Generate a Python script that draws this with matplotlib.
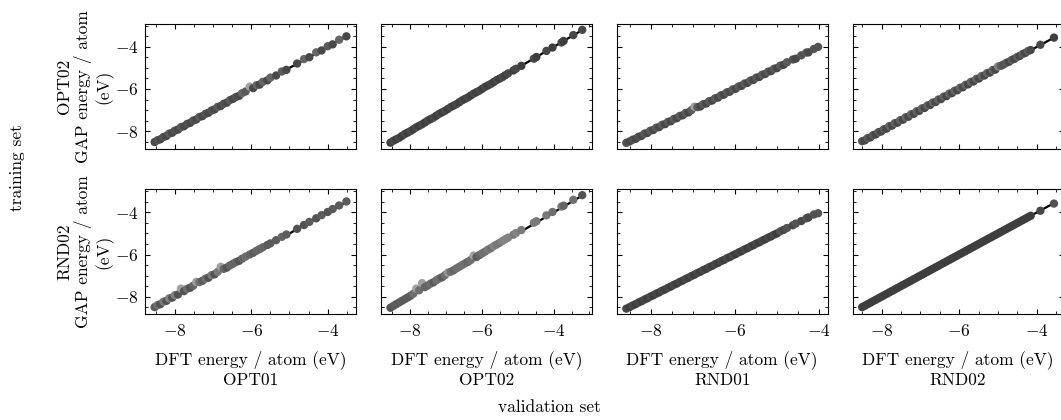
import numpy as np
import matplotlib
matplotlib.use('Agg')
import matplotlib.pyplot as plt
from matplotlib.colors import LinearSegmentedColormap

plt.rcParams.update({
    'font.family': 'serif',
    'font.serif': ['cmr10'],
    'mathtext.fontset': 'cm',
    'axes.formatter.use_mathtext': True,
    'font.size': 12.5,
    'axes.linewidth': 0.8,
    'xtick.direction': 'in',
    'ytick.direction': 'in',
    'xtick.top': True,
    'ytick.right': True,
    'xtick.minor.visible': True,
    'ytick.minor.visible': True,
    'xtick.major.size': 3.5,
    'ytick.major.size': 3.5,
    'xtick.minor.size': 2.0,
    'ytick.minor.size': 2.0,
    'xtick.major.pad': 6,
    'ytick.major.pad': 5,
})

validation_sets = ['OPT01', 'OPT02', 'RND01', 'RND02']
training_sets = ['OPT02', 'RND02']

# DFT reference energies per atom (eV) of each validation set
dft_opt01 = [-8.53, -8.45, -8.38, -8.30, -8.22, -8.15, -8.07, -8.00, -7.92, -7.84,
             -7.76, -7.68, -7.60, -7.52, -7.44, -7.36, -7.28, -7.20, -7.12, -7.04,
             -6.96, -6.88, -6.80, -6.72, -6.64, -6.56, -6.48, -6.40, -6.32, -6.24,
             -6.15, -6.04, -5.95, -5.86, -5.78, -5.70, -5.58, -5.50, -5.35, -5.20,
             -5.08, -4.80, -4.62, -4.48, -4.30, -4.16, -4.00, -3.87, -3.70, -3.51]
dft_opt02 = [-8.55, -8.47, -8.39, -8.31, -8.23, -8.15, -8.07, -7.99, -7.91, -7.83,
             -7.75, -7.67, -7.59, -7.51, -7.43, -7.35, -7.27, -7.19, -7.11, -7.03,
             -6.95, -6.87, -6.79, -6.71, -6.63, -6.55, -6.47, -6.39, -6.31, -6.23,
             -6.15, -6.07, -5.99, -5.91, -5.83, -5.75, -5.67, -5.59, -5.51, -5.43,
             -5.35, -5.27, -5.12, -5.05, -4.90, -4.55, -4.48, -4.20, -4.03, -3.78,
             -3.72, -3.45, -3.20]
dft_rnd01 = [-8.58, -8.50, -8.43, -8.36, -8.29, -8.22, -8.15, -8.08, -8.01, -7.94,
             -7.87, -7.80, -7.73, -7.66, -7.59, -7.52, -7.45, -7.38, -7.31, -7.24,
             -7.17, -7.10, -7.03, -6.96, -6.89, -6.82, -6.75, -6.68, -6.61, -6.54,
             -6.47, -6.40, -6.33, -6.26, -6.19, -6.12, -6.05, -5.98, -5.91, -5.84,
             -5.77, -5.70, -5.63, -5.56, -5.49, -5.42, -5.35, -5.28, -5.21, -5.14,
             -5.07, -5.00, -4.92, -4.84, -4.76, -4.62, -4.55, -4.42, -4.30, -4.25,
             -4.12, -4.02]
dft_rnd02 = [-8.50, -8.43, -8.36, -8.29, -8.22, -8.15, -8.08, -8.01, -7.94, -7.87,
             -7.80, -7.73, -7.66, -7.59, -7.52, -7.45, -7.38, -7.31, -7.24, -7.17,
             -7.10, -7.03, -6.96, -6.89, -6.82, -6.75, -6.68, -6.61, -6.54, -6.47,
             -6.40, -6.33, -6.26, -6.19, -6.12, -6.05, -5.98, -5.91, -5.84, -5.77,
             -5.70, -5.63, -5.56, -5.49, -5.42, -5.35, -5.28, -5.21, -5.14, -5.07,
             -5.00, -4.93, -4.86, -4.79, -4.72, -4.65, -4.58, -4.51, -4.44, -4.37,
             -4.30, -4.23, -4.16, -3.91, -3.56]

# GAP predictions, model trained on OPT02
gap_opt02_on_opt01 = [-8.52, -8.43, -8.39, -8.28, -8.23, -8.12, -8.08, -7.98, -7.93, -7.81,
                      -7.77, -7.66, -7.61, -7.50, -7.45, -7.33, -7.29, -7.18, -7.13, -7.02,
                      -6.97, -6.85, -6.81, -6.70, -6.65, -6.53, -6.47, -6.38, -6.33, -6.20,
                      -6.12, -5.89, -5.96, -5.82, -5.79, -5.66, -5.59, -5.46, -5.36, -5.17,
                      -5.09, -4.79, -4.58, -4.49, -4.26, -4.17, -3.97, -3.88, -3.66, -3.50]
gap_opt02_on_opt02 = [-8.55, -8.46, -8.39, -8.32, -8.23, -8.14, -8.07, -8.00, -7.91, -7.82,
                      -7.75, -7.68, -7.59, -7.50, -7.43, -7.36, -7.27, -7.18, -7.11, -7.04,
                      -6.95, -6.86, -6.79, -6.72, -6.63, -6.54, -6.47, -6.40, -6.31, -6.22,
                      -6.15, -6.08, -5.99, -5.90, -5.83, -5.76, -5.67, -5.58, -5.51, -5.44,
                      -5.35, -5.26, -5.12, -5.04, -4.90, -4.56, -4.48, -4.19, -4.03, -3.79,
                      -3.72, -3.44, -3.19]
gap_opt02_on_rnd01 = [-8.56, -8.49, -8.41, -8.37, -8.27, -8.23, -8.12, -8.09, -7.98, -7.95,
                      -7.84, -7.81, -7.70, -7.67, -7.56, -7.53, -7.42, -7.39, -7.28, -7.25,
                      -7.14, -7.11, -7.00, -6.84, -6.86, -6.83, -6.72, -6.69, -6.58, -6.55,
                      -6.44, -6.41, -6.30, -6.27, -6.16, -6.13, -6.02, -5.99, -5.88, -5.85,
                      -5.74, -5.71, -5.60, -5.57, -5.46, -5.43, -5.32, -5.29, -5.18, -5.15,
                      -5.04, -5.01, -4.89, -4.85, -4.73, -4.60, -4.56, -4.40, -4.27, -4.26,
                      -4.10, -4.00]
gap_opt02_on_rnd02 = [-8.48, -8.44, -8.33, -8.30, -8.19, -8.16, -8.05, -8.02, -7.91, -7.88,
                      -7.76, -7.74, -7.62, -7.60, -7.48, -7.46, -7.34, -7.32, -7.20, -7.18,
                      -7.06, -7.04, -6.92, -6.90, -6.78, -6.76, -6.64, -6.62, -6.50, -6.48,
                      -6.36, -6.34, -6.22, -6.20, -6.08, -6.06, -5.94, -5.92, -5.80, -5.78,
                      -5.66, -5.64, -5.52, -5.50, -5.38, -5.36, -5.24, -5.22, -5.10, -5.08,
                      -4.93, -4.90, -4.84, -4.76, -4.71, -4.62, -4.57, -4.48, -4.43, -4.34,
                      -4.29, -4.20, -4.15, -3.90, -3.56]

# GAP predictions, model trained on RND02
gap_rnd02_on_opt01 = [-8.50, -8.40, -8.36, -8.24, -8.20, -8.08, -8.05, -7.93, -7.90, -7.62,
                      -7.74, -7.63, -7.58, -7.48, -7.30, -7.31, -7.25, -7.15, -7.10, -6.98,
                      -6.94, -6.82, -6.58, -6.68, -6.62, -6.52, -6.44, -6.36, -6.30, -6.20,
                      -6.10, -6.00, -5.92, -5.82, -5.74, -5.66, -5.55, -5.47, -5.32, -5.16,
                      -5.05, -4.78, -4.60, -4.45, -4.28, -4.13, -3.98, -3.84, -3.67, -3.48]
gap_rnd02_on_opt02 = [-8.53, -8.44, -8.36, -8.28, -8.20, -8.12, -8.04, -7.96, -7.86, -7.62,
                      -7.70, -7.36, -7.55, -7.47, -7.38, -7.32, -7.22, -7.14, -7.08, -6.98,
                      -6.86, -6.82, -6.75, -6.66, -6.58, -6.50, -6.42, -6.35, -6.26, -6.05,
                      -6.12, -6.03, -5.94, -5.86, -5.77, -5.70, -5.60, -5.53, -5.45, -5.36,
                      -5.28, -5.20, -5.06, -4.98, -4.84, -4.49, -4.42, -4.14, -3.98, -3.72,
                      -3.68, -3.40, -3.18]
gap_rnd02_on_rnd01 = [-8.57, -8.50, -8.42, -8.36, -8.28, -8.22, -8.14, -8.08, -8.00, -7.94,
                      -7.86, -7.80, -7.72, -7.66, -7.58, -7.52, -7.44, -7.38, -7.30, -7.24,
                      -7.16, -7.10, -7.02, -6.96, -6.88, -6.82, -6.74, -6.68, -6.60, -6.54,
                      -6.46, -6.40, -6.32, -6.26, -6.18, -6.12, -6.04, -5.98, -5.90, -5.84,
                      -5.76, -5.70, -5.62, -5.56, -5.48, -5.42, -5.34, -5.28, -5.20, -5.14,
                      -5.06, -5.00, -4.90, -4.83, -4.74, -4.61, -4.53, -4.41, -4.28, -4.24,
                      -4.10, -4.04]
gap_rnd02_on_rnd02 = [-8.50, -8.43, -8.36, -8.29, -8.22, -8.15, -8.08, -8.01, -7.94, -7.87,
                      -7.80, -7.73, -7.66, -7.59, -7.52, -7.45, -7.38, -7.31, -7.24, -7.17,
                      -7.10, -7.03, -6.96, -6.89, -6.82, -6.75, -6.68, -6.61, -6.54, -6.47,
                      -6.40, -6.33, -6.26, -6.19, -6.12, -6.05, -5.98, -5.91, -5.84, -5.77,
                      -5.70, -5.63, -5.56, -5.49, -5.42, -5.35, -5.28, -5.21, -5.14, -5.07,
                      -5.00, -4.93, -4.86, -4.79, -4.72, -4.65, -4.58, -4.51, -4.44, -4.37,
                      -4.30, -4.23, -4.16, -3.92, -3.58]

dft = [dft_opt01, dft_opt02, dft_rnd01, dft_rnd02]
gap = [[gap_opt02_on_opt01, gap_opt02_on_opt02, gap_opt02_on_rnd01, gap_opt02_on_rnd02],
       [gap_rnd02_on_opt01, gap_rnd02_on_opt02, gap_rnd02_on_rnd01, gap_rnd02_on_rnd02]]

# points shaded by absolute error, dark = small
err_cmap = LinearSegmentedColormap.from_list('err', ['#3e3e3e', '#a0a0a0'])

fig, axes = plt.subplots(2, 4, figsize=(10.61, 4.2), dpi=100,
                         sharex='col', sharey=True)
fig.subplots_adjust(left=0.1367, right=1.0024, top=0.943, bottom=0.2512,
                    wspace=0.118, hspace=0.324)

for i, train in enumerate(training_sets):
    for j, val in enumerate(validation_sets):
        ax = axes[i, j]
        x = np.array(dft[j])
        y = np.array(gap[i][j])
        lo, hi = x.min(), x.max()
        ax.plot([lo, hi], [lo, hi], color='black', lw=1.6, zorder=1)
        ax.scatter(x, y, c=np.abs(y - x), cmap=err_cmap, vmin=0, vmax=0.1,
                   s=36, linewidths=0, zorder=2)
        ax.set_yticks([-8, -6, -4])
        ax.set_xticks([-8, -6, -4])
        if j == 0:
            ax.set_ylabel(f'{train}\nGAP energy / atom\n(eV)', ma='center',
                          linespacing=1.15, labelpad=1)
        if i == 1:
            ax.set_xlabel(f'DFT energy / atom (eV)\n{val}', ma='center',
                          linespacing=1.35, labelpad=8)
        else:
            ax.tick_params(labelbottom=False)

fig.text(549 / 1061, 1 - 407 / 420, 'validation set', ha='center', va='center')
fig.text(17 / 1061, 1 - 168 / 420, 'training set', ha='center', va='center',
         rotation=90)

fig.savefig('out.png', dpi=100)
